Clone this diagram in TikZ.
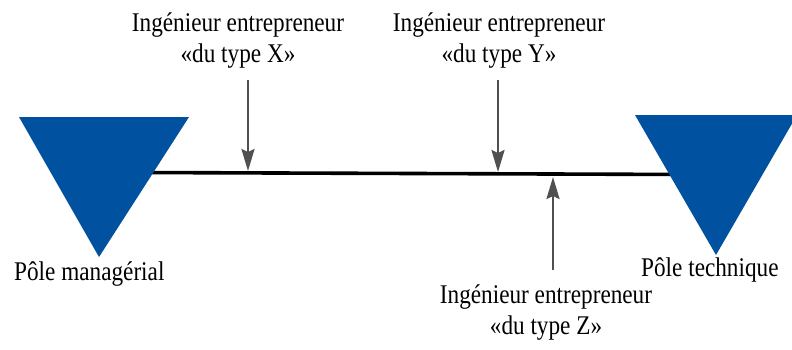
\documentclass[tikz,border=0pt]{standalone}
\usepackage{fontspec}
\setmainfont[FakeStretch=0.86]{Liberation Serif}
\usepackage{xcolor}
\usepackage{tikz}
\usetikzlibrary{positioning, arrows.meta}
\definecolor{poleblue}{RGB}{0,82,160}
\definecolor{arrowgray}{RGB}{80,80,80}

\begin{document}
\begin{tikzpicture}[x=1pt,y=-1pt,
    lbl/.style={align=center, inner sep=0pt, font=\fontsize{27}{31}\selectfont},
    pole/.style={fill=poleblue},
    pointer/.style={draw=arrowgray, line width=2.4pt, -{Stealth[length=22pt,width=13pt,inset=3pt]}}]
    \useasboundingbox (0,0) rectangle (792,349);

        % axe entre les deux poles
        \coordinate (axeL) at (140,172.5);
        \coordinate (axeR) at (690,174.5);
        \draw[line width=3.6pt] (axeL) -- (axeR);

        \coordinate (mA) at (19,117);
        \coordinate (mB) at (189,117);
        \coordinate (mC) at (99,257);
        \coordinate (tA) at (635,115);
        \coordinate (tB) at (797,115);
        \coordinate (tC) at (716,255);
        \fill[pole] (mA) -- (mB) -- (mC) -- cycle;
        \fill[pole] (tA) -- (tB) -- (tC) -- cycle;

        \node[lbl, anchor=base west] (mgr) at (14,280) {Pôle managérial};
        \node[lbl, anchor=base west] (tech) at (641,276) {Pôle technique};

        \node[lbl] (typeX) at (238,41) {Ingénieur entrepreneur\\«du type X»};
        \node[lbl] (typeY) at (499,41) {Ingénieur entrepreneur\\«du type Y»};
        \node[lbl] (typeZ) at (546,313) {Ingénieur entrepreneur\\«du type Z»};

        \coordinate (fromX) at (248,80);
        \coordinate (onX) at (248,171);
        \coordinate (fromY) at (498,80);
        \coordinate (onY) at (498,172);
        \coordinate (fromZ) at (553,270);
        \coordinate (onZ) at (553,177);

        \draw[pointer] (fromX) -- (onX);
        \draw[pointer] (fromY) -- (onY);
        \draw[pointer] (fromZ) -- (onZ);

\end{tikzpicture}
\end{document}
